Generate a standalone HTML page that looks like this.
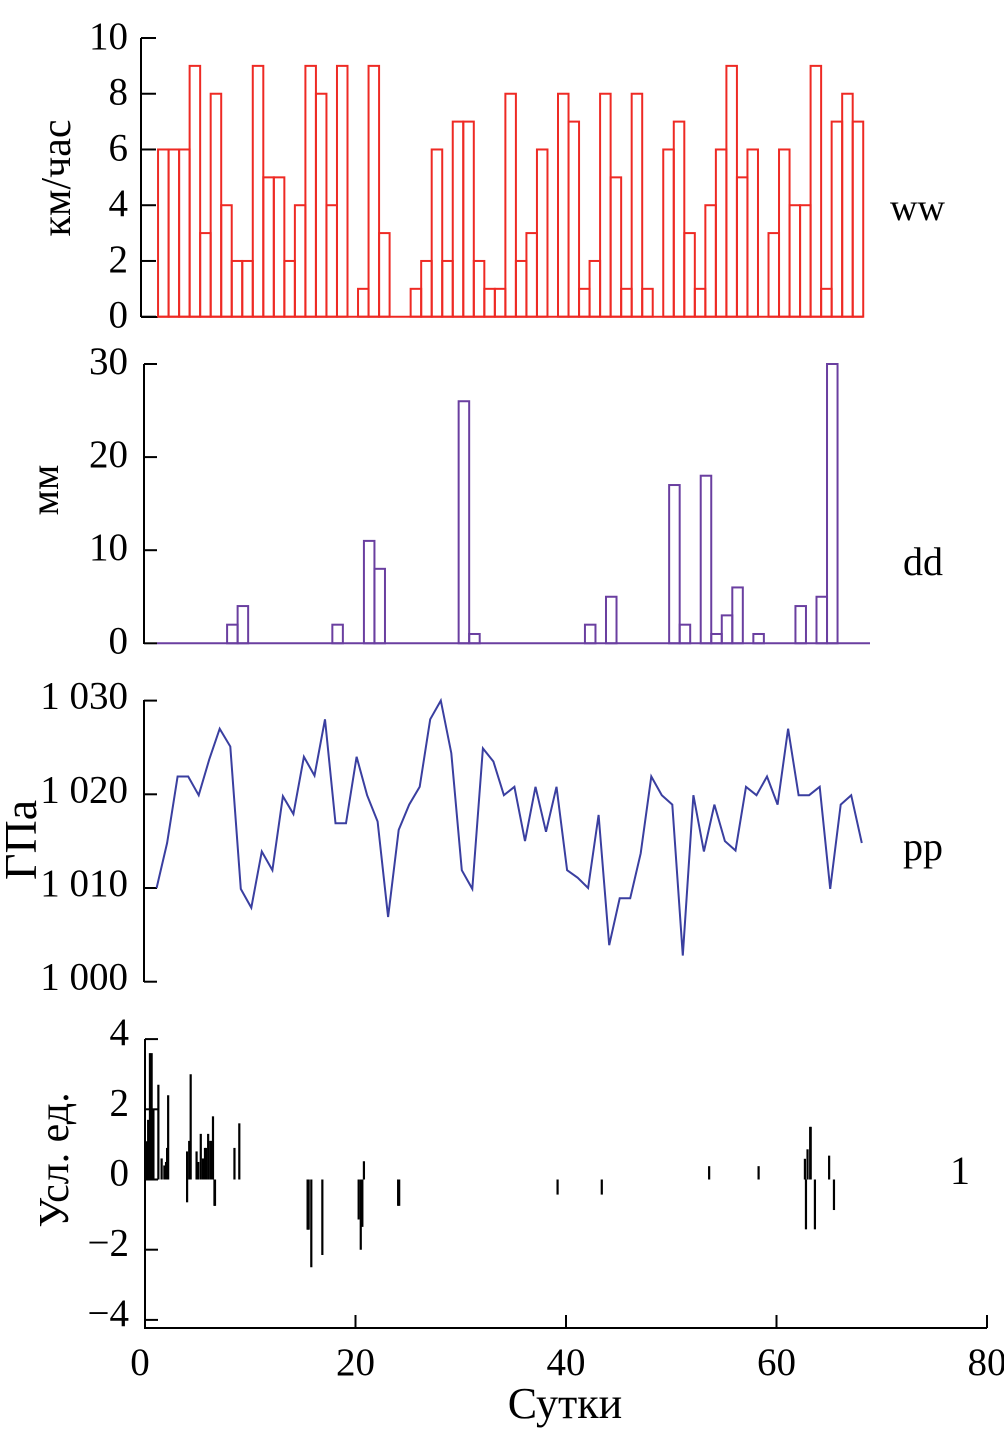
<!DOCTYPE html>
<html><head><meta charset="utf-8">
<style>
html,body{margin:0;padding:0;background:#fff;}
svg{display:block;}
text{font-family:"Liberation Serif",serif;fill:#000;}
</style></head>
<body>
<svg id="chart" width="1004" height="1444" xmlns="http://www.w3.org/2000/svg"></svg>
<script>
// ---- data ----
const windDays = [1,2,3,4,5,6,7,8,9,10,11,12,13,14,15,16,17,18,19,20,21,22,23,24,25,26,27,28,29,30,31,32,33,34,35,36,37,38,39,40,41,42,43,44,45,46,47,48,49,50,51,52,53,54,55,56,57,58,59,60,61,62,63,64,65,66,67];
const windValues = [6,6,6,9,3,8,4,2,2,9,5,5,2,4,9,8,4,9,0,1,9,3,0,0,1,2,6,2,7,7,2,1,1,8,2,3,6,0,8,7,1,2,8,5,1,8,1,0,6,7,3,1,4,6,9,5,6,0,3,6,4,4,9,1,7,8,7];
const windTicks = [0,2,4,6,8,10];
const rainDays = [8,9,18,21,22,30,31,42,44,50,51,53,54,55,56,58,62,64,65];
const rainValues = [2,4,2,11,8,26,1,2,5,17,2,18,1,3,6,1,4,5,30];
const rainTicks = [0,10,20,30];
const presDays = [1,2,3,4,5,6,7,8,9,10,11,12,13,14,15,16,17,18,19,20,21,22,23,24,25,26,27,28,29,30,31,32,33,34,35,36,37,38,39,40,41,42,43,44,45,46,47,48,49,50,51,52,53,54,55,56,57,58,59,60,61,62,63,64,65,66,67,68];
const presValues = [1010,1014.8,1021.9,1021.9,1019.9,1023.7,1027,1025.1,1009.9,1007.9,1013.9,1011.9,1019.8,1017.9,1024,1022,1028,1016.9,1016.9,1024,1019.9,1017.1,1006.9,1016.2,1018.9,1020.8,1028,1030,1024.4,1011.9,1009.9,1024.9,1023.5,1019.9,1020.8,1015,1020.8,1016,1020.8,1011.9,1011.1,1010,1017.8,1003.9,1008.9,1008.9,1013.7,1021.9,1019.9,1018.9,1002.8,1019.9,1013.9,1018.9,1015,1014,1020.8,1019.9,1021.9,1018.9,1027,1019.9,1019.9,1020.8,1009.9,1018.9,1019.9,1014.8];
const presTicks = [1000,1010,1020,1030];
const presTickLabels = ["1 000","1 010","1 020","1 030"];
const idxDays = [0.16,0.3,0.47,0.63,0.8,1.27,1.58,1.84,2.0,2.1,2.2,4.0,4.0,4.2,4.34,4.9,5.06,5.3,5.5,5.7,5.8,6.0,6.2,6.3,6.46,6.6,6.65,8.5,8.96,15.45,15.55,15.8,16.85,20.3,20.5,20.65,20.8,24.05,24.15,39.2,43.4,53.6,58.3,62.7,62.8,62.95,63.2,63.25,63.65,65.0,65.46];
const idxValues = [1.09,1.7,3.6,3.6,2.0,2.7,0.6,0.4,0.5,0.9,2.4,0.8,-0.65,1.1,3.0,0.8,0.5,1.3,0.6,0.9,0.9,1.3,1.1,1.1,1.8,-0.75,-0.75,0.9,1.6,-1.43,-1.43,-2.5,-2.15,-1.14,-2.0,-1.35,0.52,-0.75,-0.75,-0.43,-0.43,0.38,0.38,0.59,-1.42,0.86,1.5,1.5,-1.42,0.68,-0.87];
const idxTicks = [-4,-2,0,2,4];
const xTicks = [0,20,40,60,80];

// ---- scales ----
const NS = "http://www.w3.org/2000/svg";
const svg = document.getElementById('chart');
const X = d => 145 + d * 10.525;
const yWind = v => 316.7 - v * 27.87;
const yRain = v => 643.3 - v * 9.31;
const yPres = v => 888 - (v - 1010) * 9.37;
const yIdx = v => 1179.5 - v * 35.1;

function mk(tag, attrs, parent) {
  const el = document.createElementNS(NS, tag);
  for (const k in attrs) el.setAttribute(k, attrs[k]);
  (parent || svg).appendChild(el);
  return el;
}
function txt(s, x, y, size, anchor, parent) {
  const t = mk('text', {x: x, y: y, 'font-size': size, 'text-anchor': anchor || 'end'}, parent);
  t.textContent = s;
  return t;
}

// ---- panel 1: wind ----
const g1 = mk('g', {});


mk('line', {x1: 141, y1: 38, x2: 141, y2: 317, stroke: '#000', 'stroke-width': 2}, g1);
mk('line', {x1: 141, y1: 317, x2: 158, y2: 317, stroke: '#000', 'stroke-width': 2}, g1);
windTicks.forEach(v => {
  mk('line', {x1: 141, y1: yWind(v), x2: 156, y2: yWind(v), stroke: '#000', 'stroke-width': 2}, g1);
  const t = txt(String(v), 128, yWind(v) + 11, 39, 'end', g1);
  
  
});
windDays.forEach((d, i) => {
  const x0 = X(d + 0.24), w = 10.525, v = windValues[i];
  const r = mk('rect', {x: x0, y: yWind(v), width: w, height: yWind(0) - yWind(v), fill: 'none', stroke: '#ee2a24', 'stroke-width': 2}, g1);
  
  
});
mk('line', {x1: X(1.24), y1: yWind(0), x2: X(68.24), y2: yWind(0), stroke: '#ee2a24', 'stroke-width': 2}, g1);
const t1 = txt('км/час', 70, 178, 42, 'middle', g1);
t1.setAttribute('transform', 'rotate(-90 70 178)');


const l1 = txt('ww', 890, 220, 38, 'start', g1);



// ---- panel 2: rain ----
const g2 = mk('g', {});


mk('line', {x1: 144, y1: 364, x2: 144, y2: 644, stroke: '#000', 'stroke-width': 2}, g2);
rainTicks.forEach(v => {
  mk('line', {x1: 144, y1: yRain(v), x2: 157, y2: yRain(v), stroke: '#000', 'stroke-width': 2}, g2);
  const t = txt(String(v), 128, yRain(v) + 10, 39, 'end', g2);
  
  
});
mk('line', {x1: 157, y1: yRain(0), x2: 870, y2: yRain(0), stroke: '#6a3fa0', 'stroke-width': 2}, g2);
rainDays.forEach((d, i) => {
  const v = rainValues[i];
  const r = mk('rect', {x: X(d - 0.2), y: yRain(v), width: 10.525, height: yRain(0) - yRain(v), fill: 'none', stroke: '#6a3fa0', 'stroke-width': 2}, g2);
  
  
});
const t2 = txt('мм', 58, 490, 40, 'middle', g2);
t2.setAttribute('transform', 'rotate(-90 58 490)');


const l2 = txt('dd', 903, 575, 40, 'start', g2);



// ---- panel 3: pressure ----
const g3 = mk('g', {});


mk('line', {x1: 144, y1: 700, x2: 144, y2: 982, stroke: '#000', 'stroke-width': 2}, g3);
presTicks.forEach((v, i) => {
  mk('line', {x1: 144, y1: yPres(v), x2: 157, y2: yPres(v), stroke: '#000', 'stroke-width': 2}, g3);
  const t = txt(presTickLabels[i], 128, yPres(v) + 8, 39, 'end', g3);
  
  
});
const pts = presDays.map((d, i) => (X(d + 0.1)).toFixed(1) + ',' + yPres(presValues[i]).toFixed(1)).join(' ');
const pl = mk('polyline', {points: pts, fill: 'none', stroke: '#3a3fa0', 'stroke-width': 2}, g3);


const t3 = txt('ГПа', 36, 840, 46, 'middle', g3);
t3.setAttribute('transform', 'rotate(-90 36 840)');


const l3 = txt('pp', 903, 860, 40, 'start', g3);



// ---- panel 4: index ----
const g4 = mk('g', {});


mk('line', {x1: 145, y1: 1039, x2: 145, y2: 1329, stroke: '#000', 'stroke-width': 2}, g4);
idxTicks.forEach(v => {
  mk('line', {x1: 145, y1: yIdx(v), x2: 158, y2: yIdx(v), stroke: '#000', 'stroke-width': 2}, g4);
  const t = txt(v < 0 ? '−' + Math.abs(v) : String(v), 129, yIdx(v) + 6, 39, 'end', g4);
  
  
});
mk('line', {x1: 145, y1: 1328, x2: 987, y2: 1328, stroke: '#000', 'stroke-width': 2}, g4);
xTicks.forEach(v => {
  mk('line', {x1: X(v), y1: 1328, x2: X(v), y2: 1315, stroke: '#000', 'stroke-width': 2}, g4);
  const t = txt(String(v), X(v) - (v === 0 ? 5 : 0), 1375, 39, 'middle', g4);
  
  
});
idxDays.forEach((d, i) => {
  const l = mk('line', {x1: X(d), y1: yIdx(0), x2: X(d), y2: yIdx(idxValues[i]), stroke: '#000', 'stroke-width': 2.2}, g4);
  
  
});
const t4 = txt('Усл. ед.', 68, 1160, 42, 'middle', g4);
t4.setAttribute('transform', 'rotate(-90 68 1160)');


const l4 = txt('1', 950, 1184, 40, 'start', g4);


const xt = txt('Сутки', 565, 1418, 44, 'middle', g4);


</script>
</body></html>
